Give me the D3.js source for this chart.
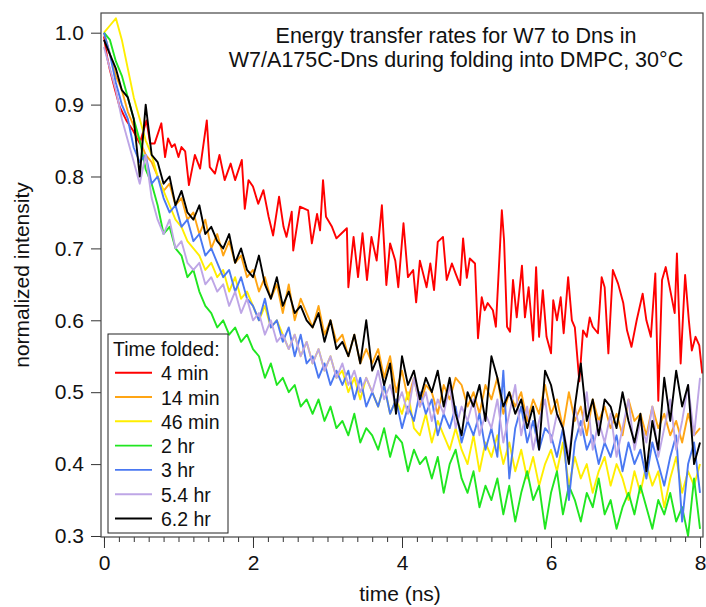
<!DOCTYPE html>
<html>
<head>
<meta charset="utf-8">
<script src="https://cdn.jsdelivr.net/npm/d3@7/dist/d3.min.js"></script>
<style>
body { margin: 0; background: #fff; }
text { font-family: Arial, "Liberation Sans", sans-serif; fill: #111; }
</style>
</head>
<body>
<div id="chart"></div>
<script>

var svgWidth = 706;
var svgHeight = 607;

var frame = { left: 101, right: 703, top: 13, bottom: 537 };

var titleLines = ["Energy transfer rates for W7 to Dns in", "W7/A175C-Dns during folding into DMPC, 30\u00B0C"];
var xTitle = "time (ns)";
var yTitle = "normalized intensity";
var legendTitle = "Time folded:";

var seriesNames = ["4 min", "14 min", "46 min", "2 hr", "3 hr", "5.4 hr", "6.2 hr"];
var seriesColors = ["#ff0000", "#ffa514", "#ffee00", "#20e620", "#4a78f2", "#bea6e6", "#000000"];

var xTicksMajor = [0, 2, 4, 6, 8];
var yTicks = [0.3, 0.4, 0.5, 0.6, 0.7, 0.8, 0.9, 1.0];

// 4 min trace, read vertex by vertex (time in ns)
var redTime = [0.00, 0.04, 0.08, 0.15, 0.21, 0.30, 0.39, 0.48, 0.57, 0.62, 0.68, 0.77, 0.82, 0.86, 0.91, 0.95,
    1.00, 1.04, 1.09, 1.14, 1.22, 1.29, 1.38, 1.42, 1.49, 1.55, 1.62, 1.70, 1.76, 1.85, 1.89, 1.94,
    2.00, 2.07, 2.14, 2.21, 2.27, 2.35, 2.41, 2.45, 2.52, 2.54, 2.63, 2.74, 2.79, 2.86, 2.90, 2.94,
    2.98, 3.06, 3.12, 3.19, 3.26, 3.28, 3.35, 3.41, 3.47, 3.53, 3.59, 3.66, 3.73, 3.79, 3.84, 3.91,
    3.95, 4.02, 4.08, 4.15, 4.19, 4.24, 4.33, 4.38, 4.43, 4.48, 4.55, 4.60, 4.67, 4.72, 4.78, 4.82,
    4.87, 4.91, 4.98, 5.02, 5.07, 5.11, 5.15, 5.22, 5.26, 5.34, 5.37, 5.41, 5.45, 5.49, 5.54, 5.61,
    5.65, 5.70, 5.76, 5.80, 5.84, 5.89, 5.94, 6.00, 6.03, 6.08, 6.13, 6.17, 6.23, 6.28, 6.32, 6.38,
    6.43, 6.48, 6.52, 6.56, 6.63, 6.68, 6.72, 6.77, 6.83, 6.90, 6.97, 7.02, 7.08, 7.15, 7.23, 7.28,
    7.34, 7.40, 7.44, 7.49, 7.54, 7.60, 7.66, 7.69, 7.74, 7.80, 7.85, 7.89, 7.94, 7.99, 8.03];
var redValues = [0.995, 0.967, 0.948, 0.920, 0.897, 0.878, 0.864, 0.846, 0.878, 0.846, 0.846, 0.874, 0.827, 0.853, 0.841, 0.845,
    0.827, 0.841, 0.835, 0.788, 0.830, 0.811, 0.878, 0.813, 0.804, 0.830, 0.795, 0.818, 0.795, 0.823, 0.755, 0.795,
    0.786, 0.762, 0.781, 0.744, 0.718, 0.772, 0.730, 0.716, 0.751, 0.697, 0.758, 0.753, 0.707, 0.748, 0.725, 0.795,
    0.744, 0.730, 0.714, 0.721, 0.728, 0.646, 0.716, 0.660, 0.721, 0.656, 0.716, 0.683, 0.760, 0.649, 0.707, 0.683,
    0.646, 0.735, 0.660, 0.670, 0.625, 0.683, 0.646, 0.679, 0.642, 0.709, 0.716, 0.656, 0.679, 0.665, 0.649, 0.714,
    0.659, 0.686, 0.679, 0.575, 0.632, 0.614, 0.624, 0.614, 0.591, 0.753, 0.711, 0.591, 0.584, 0.656, 0.604, 0.676,
    0.604, 0.646, 0.572, 0.674, 0.577, 0.642, 0.577, 0.554, 0.628, 0.600, 0.632, 0.582, 0.660, 0.600, 0.590, 0.515,
    0.586, 0.577, 0.604, 0.591, 0.582, 0.660, 0.646, 0.554, 0.670, 0.651, 0.624, 0.586, 0.563, 0.600, 0.637, 0.600,
    0.577, 0.665, 0.488, 0.656, 0.674, 0.642, 0.610, 0.693, 0.540, 0.663, 0.600, 0.558, 0.577, 0.565, 0.526];

// the other traces, read every 0.08 ns from 0 to 8 ns
var sampleStep = 0.08;

var orangeValues = [1.00, 0.97, 0.94, 0.92, 0.89, 0.87, 0.85, 0.83, 0.82, 0.80,
    0.78, 0.79, 0.76, 0.77, 0.74, 0.75, 0.72, 0.74, 0.70, 0.72,
    0.69, 0.71, 0.68, 0.69, 0.66, 0.67, 0.64, 0.66, 0.63, 0.65,
    0.61, 0.65, 0.60, 0.63, 0.61, 0.59, 0.62, 0.58, 0.60, 0.57,
    0.58, 0.55, 0.58, 0.54, 0.56, 0.54, 0.56, 0.52, 0.55, 0.50,
    0.53, 0.49, 0.52, 0.48, 0.51, 0.50, 0.47, 0.51, 0.49, 0.52,
    0.51, 0.48, 0.50, 0.47, 0.51, 0.49, 0.52, 0.47, 0.50, 0.48,
    0.50, 0.46, 0.49, 0.47, 0.51, 0.47, 0.49, 0.45, 0.50, 0.46,
    0.48, 0.44, 0.49, 0.46, 0.48, 0.45, 0.47, 0.44, 0.49, 0.46,
    0.47, 0.44, 0.48, 0.45, 0.47, 0.44, 0.46, 0.43, 0.47, 0.44, 0.45];

var yellowValues = [1.00, 1.01, 1.02, 0.99, 0.95, 0.91, 0.88, 0.85, 0.83, 0.80,
    0.78, 0.76, 0.74, 0.73, 0.71, 0.70, 0.69, 0.67, 0.68, 0.66,
    0.67, 0.64, 0.66, 0.63, 0.64, 0.62, 0.60, 0.62, 0.59, 0.60,
    0.58, 0.56, 0.58, 0.55, 0.57, 0.54, 0.56, 0.53, 0.55, 0.52,
    0.53, 0.50, 0.52, 0.49, 0.52, 0.50, 0.48, 0.51, 0.47, 0.49,
    0.47, 0.50, 0.45, 0.44, 0.47, 0.43, 0.46, 0.44, 0.42, 0.45,
    0.42, 0.40, 0.44, 0.39, 0.43, 0.41, 0.44, 0.40, 0.43, 0.39,
    0.42, 0.38, 0.41, 0.37, 0.40, 0.42, 0.39, 0.43, 0.37, 0.41,
    0.38, 0.40, 0.36, 0.39, 0.41, 0.37, 0.40, 0.38, 0.35, 0.39,
    0.36, 0.40, 0.37, 0.39, 0.34, 0.38, 0.41, 0.36, 0.39, 0.37, 0.40];

var greenValues = [1.00, 0.99, 0.96, 0.94, 0.91, 0.88, 0.85, 0.81, 0.79, 0.76,
    0.72, 0.73, 0.70, 0.69, 0.66, 0.67, 0.64, 0.62, 0.61, 0.59,
    0.60, 0.58, 0.59, 0.57, 0.58, 0.56, 0.55, 0.52, 0.54, 0.51,
    0.52, 0.50, 0.51, 0.48, 0.49, 0.47, 0.49, 0.46, 0.48, 0.45,
    0.46, 0.44, 0.47, 0.43, 0.45, 0.44, 0.42, 0.45, 0.41, 0.44,
    0.43, 0.39, 0.42, 0.40, 0.41, 0.38, 0.41, 0.36, 0.40, 0.42,
    0.38, 0.36, 0.39, 0.34, 0.37, 0.35, 0.38, 0.33, 0.37, 0.32,
    0.36, 0.39, 0.35, 0.37, 0.31, 0.36, 0.39, 0.33, 0.37, 0.35,
    0.32, 0.36, 0.34, 0.38, 0.33, 0.35, 0.31, 0.34, 0.36, 0.33,
    0.37, 0.34, 0.31, 0.35, 0.33, 0.36, 0.32, 0.34, 0.30, 0.38, 0.31];

var blueValues = [1.00, 0.97, 0.93, 0.90, 0.88, 0.84, 0.82, 0.83, 0.79, 0.80,
    0.77, 0.75, 0.76, 0.73, 0.74, 0.71, 0.72, 0.69, 0.70, 0.68,
    0.66, 0.67, 0.64, 0.66, 0.63, 0.62, 0.60, 0.63, 0.59, 0.60,
    0.57, 0.59, 0.55, 0.58, 0.54, 0.55, 0.52, 0.54, 0.51, 0.53,
    0.51, 0.53, 0.49, 0.52, 0.48, 0.50, 0.48, 0.51, 0.47, 0.49,
    0.45, 0.48, 0.46, 0.50, 0.47, 0.49, 0.44, 0.47, 0.45, 0.48,
    0.43, 0.46, 0.44, 0.47, 0.42, 0.45, 0.41, 0.53, 0.38, 0.45,
    0.48, 0.43, 0.46, 0.42, 0.45, 0.44, 0.41, 0.45, 0.35, 0.43,
    0.46, 0.42, 0.44, 0.40, 0.43, 0.41, 0.44, 0.39, 0.43, 0.40,
    0.42, 0.38, 0.43, 0.40, 0.37, 0.41, 0.44, 0.32, 0.40, 0.43, 0.36];

var lavenderValues = [0.98, 0.95, 0.92, 0.88, 0.85, 0.82, 0.79, 0.83, 0.77, 0.74,
    0.72, 0.74, 0.70, 0.71, 0.68, 0.67, 0.68, 0.65, 0.66, 0.64,
    0.65, 0.62, 0.64, 0.61, 0.63, 0.60, 0.61, 0.58, 0.60, 0.57,
    0.58, 0.56, 0.58, 0.55, 0.57, 0.54, 0.56, 0.53, 0.55, 0.52,
    0.54, 0.51, 0.53, 0.50, 0.52, 0.50, 0.53, 0.49, 0.51, 0.48,
    0.50, 0.47, 0.52, 0.48, 0.50, 0.46, 0.49, 0.47, 0.51, 0.45,
    0.48, 0.46, 0.49, 0.44, 0.47, 0.45, 0.49, 0.43, 0.47, 0.51,
    0.44, 0.48, 0.42, 0.46, 0.49, 0.43, 0.47, 0.45, 0.41, 0.48,
    0.44, 0.50, 0.42, 0.46, 0.43, 0.47, 0.41, 0.45, 0.49, 0.42,
    0.46, 0.43, 0.48, 0.41, 0.45, 0.49, 0.42, 0.46, 0.51, 0.44, 0.52];

var blackValues = [0.99, 0.97, 0.95, 0.92, 0.91, 0.88, 0.80, 0.90, 0.83, 0.82,
    0.79, 0.80, 0.76, 0.78, 0.75, 0.74, 0.76, 0.72, 0.73, 0.71,
    0.70, 0.72, 0.68, 0.70, 0.67, 0.66, 0.69, 0.65, 0.63, 0.66,
    0.62, 0.64, 0.61, 0.62, 0.60, 0.59, 0.61, 0.57, 0.60, 0.56,
    0.57, 0.55, 0.58, 0.54, 0.60, 0.53, 0.55, 0.51, 0.54, 0.47,
    0.55, 0.51, 0.53, 0.49, 0.52, 0.50, 0.53, 0.48, 0.52, 0.47,
    0.44, 0.50, 0.48, 0.51, 0.46, 0.55, 0.52, 0.48, 0.50, 0.47,
    0.49, 0.45, 0.48, 0.42, 0.53, 0.51, 0.47, 0.45, 0.40, 0.48,
    0.54, 0.46, 0.49, 0.44, 0.49, 0.48, 0.45, 0.50, 0.46, 0.43,
    0.47, 0.39, 0.46, 0.42, 0.52, 0.46, 0.53, 0.48, 0.51, 0.40, 0.43];

function toPoints(values) {
    return values.map(function(v, i) { return { t: i * sampleStep, v: v }; });
}

var traces = [
    redValues.map(function(v, i) { return { t: redTime[i], v: v }; }),
    toPoints(orangeValues),
    toPoints(yellowValues),
    toPoints(greenValues),
    toPoints(blueValues),
    toPoints(lavenderValues),
    toPoints(blackValues)
];

var svg = d3.select("#chart").append("svg").attr("width", svgWidth).attr("height", svgHeight);

var xScale = d3.scaleLinear().domain([-0.04, 8.04]).range([frame.left, frame.right]);
var yScale = d3.scaleLinear().domain([0.2986, 1.0274]).range([frame.bottom, frame.top]);

svg.append("defs").append("clipPath").attr("id", "plotClip")
    .append("rect").attr("x", frame.left).attr("y", frame.top)
    .attr("width", frame.right - frame.left).attr("height", frame.bottom - frame.top);

// axes
var leftAxis = d3.axisLeft(yScale).tickValues(yTicks).tickFormat(d3.format(".1f")).tickSize(10).tickPadding(7).tickSizeOuter(0);
var yAxis = svg.append("g").attr("transform", `translate(${frame.left},0)`).call(leftAxis);

var minorTicks = d3.range(0, 41).map(function(i) { return i * 0.2; });
var minorAxis = d3.axisBottom(xScale).tickValues(minorTicks).tickFormat("").tickSize(5).tickSizeOuter(0);
svg.append("g").attr("class", "minor").attr("transform", `translate(0,${frame.bottom})`).call(minorAxis);

var bottomAxis = d3.axisBottom(xScale).tickValues(xTicksMajor).tickFormat(d3.format("d")).tickSize(11).tickPadding(7).tickSizeOuter(0);
var xAxis = svg.append("g").attr("transform", `translate(0,${frame.bottom})`).call(bottomAxis);

svg.selectAll(".domain").remove();
svg.selectAll(".tick line").attr("stroke", "#333");
svg.selectAll(".tick text").attr("font-size", "21px").attr("fill", "#111")
    .style("font-family", "Arial, 'Liberation Sans', sans-serif");

// data lines
var line = d3.line().x(d => xScale(d.t)).y(d => yScale(d.v));

var linesGroup = svg.append("g").attr("clip-path", "url(#plotClip)");
linesGroup.selectAll("path").data(traces).enter().append("path")
    .attr("d", d => line(d))
    .attr("fill", "none")
    .attr("stroke", (d, i) => seriesColors[i])
    .attr("stroke-width", 1.9)
    .attr("stroke-linejoin", "round");

// frame
svg.append("rect").attr("x", frame.left).attr("y", frame.top)
    .attr("width", frame.right - frame.left).attr("height", frame.bottom - frame.top)
    .attr("fill", "none").attr("stroke", "#444").attr("stroke-width", 1.2);

// title
svg.append("g").selectAll("text").data(titleLines).enter().append("text")
    .attr("x", 456).attr("y", (d, i) => 43 + i * 24)
    .attr("text-anchor", "middle").attr("font-size", "21.5px").text(d => d);

// axis titles
svg.append("text").attr("x", 400).attr("y", 601).attr("text-anchor", "middle")
    .attr("font-size", "21px").text(xTitle);
svg.append("text").attr("transform", "translate(29,275) rotate(-90)").attr("text-anchor", "middle")
    .attr("font-size", "21px").text(yTitle);

// legend
var legend = svg.append("g").attr("transform", "translate(108,334)");
legend.append("rect").attr("x", 0).attr("y", 0).attr("width", 120).attr("height", 199)
    .attr("fill", "#fff").attr("stroke", "#222").attr("stroke-width", 1);
legend.append("text").attr("x", 5).attr("y", 22).attr("font-size", "19.5px").text(legendTitle);

var legendRows = legend.selectAll(".row").data(seriesNames).enter().append("g")
    .attr("class", "row").attr("transform", (d, i) => `translate(0,${38.7 + i * 24.3})`);
legendRows.append("line").attr("x1", 7).attr("x2", 44).attr("y1", 0).attr("y2", 0)
    .attr("stroke", (d, i) => seriesColors[i]).attr("stroke-width", 1.9);
legendRows.append("text").attr("x", 53).attr("y", 7.5).attr("font-size", "19.5px").text(d => d);

</script>
</body>
</html>
